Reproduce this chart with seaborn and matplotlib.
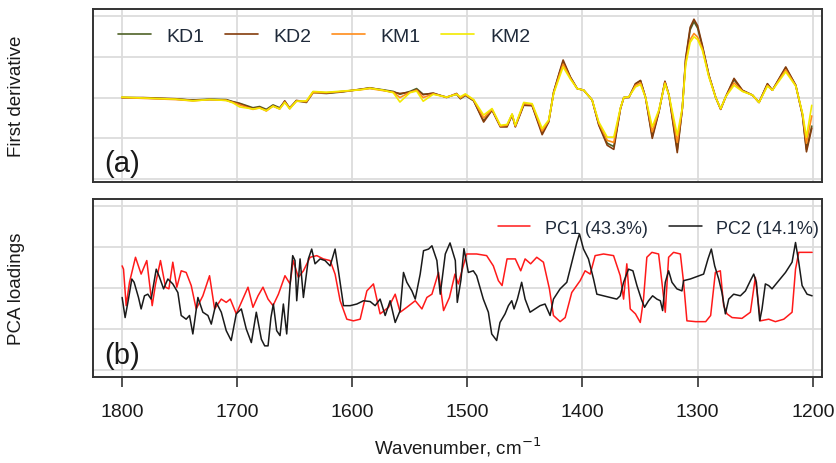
import numpy as np
import pandas as pd
import matplotlib
matplotlib.use("Agg")
import matplotlib.pyplot as plt
import seaborn as sns

# ---------------- data ----------------
wn_top = [1800, 1781.7, 1752.8, 1738.3, 1723.8, 1709.3, 1703.5, 1697.7, 1686.1, 1680.3,
          1674.5, 1668.7, 1662.9, 1658.5, 1654.2, 1648.4, 1639.7, 1633.9, 1622.3, 1607.8,
          1593.3, 1584.6, 1573, 1564.3, 1558.5, 1549.8, 1544, 1538.3, 1529.6, 1518,
          1509.3, 1506, 1501.7, 1494.5, 1485.8, 1478.5, 1471.3, 1465.5, 1461.1, 1458.3,
          1451, 1443.7, 1435, 1429.3, 1425, 1420, 1416.8, 1410.4, 1404.6, 1398.9,
          1391.6, 1385.8, 1378.5, 1372.8, 1367, 1364.1, 1359.7, 1354, 1349.6, 1345.2,
          1339.4, 1333.6, 1328.4, 1324.9, 1317.7, 1313.3, 1310.4, 1306.5, 1303.2, 1300,
          1295.9, 1290.2, 1284.3, 1280, 1275.6, 1268.4, 1261.1, 1252.4, 1246.7, 1239.4,
          1235.1, 1223.5, 1214.8, 1209, 1205.5, 1200.9]
kd1 = [0.0, -0.01, -0.04, -0.06, -0.04, -0.05, -0.10, -0.14, -0.25, -0.22,
       -0.29, -0.18, -0.25, -0.10, -0.25, -0.08, -0.12, 0.12, 0.10, 0.14,
       0.20, 0.23, 0.19, 0.15, 0.08, 0.15, 0.22, 0.08, 0.10, 0.01,
       0.08, -0.03, 0.05, -0.08, -0.57, -0.30, -0.70, -0.70, -0.42, -0.70,
       -0.17, -0.19, -0.86, -0.58, 0.13, 0.60, 0.88, 0.49, 0.22, 0.18,
       -0.06, -0.66, -1.12, -1.20, -0.27, 0.0, 0.01, 0.33, 0.41, 0.0,
       -0.95, -0.34, 0.39, 0.06, -1.28, -0.27, 0.93, 1.66, 1.86, 1.70,
       1.25, 0.54, 0.0, -0.28, 0.02, 0.44, 0.17, 0.06, -0.12, 0.33,
       0.18, 0.73, 0.30, -0.42, -1.27, -0.70]
kd2 = [0.0, 0.0, -0.03, -0.07, -0.05, -0.06, -0.11, -0.15, -0.27, -0.24,
       -0.31, -0.20, -0.27, -0.08, -0.27, -0.07, -0.11, 0.14, 0.11, 0.15,
       0.20, 0.24, 0.18, 0.13, 0.10, 0.13, 0.19, 0.07, 0.11, 0.0,
       0.10, -0.02, 0.07, -0.07, -0.60, -0.31, -0.72, -0.72, -0.43, -0.72,
       -0.19, -0.20, -0.91, -0.60, 0.14, 0.62, 0.92, 0.50, 0.22, 0.18,
       -0.06, -0.68, -1.17, -1.27, -0.27, 0.0, 0.0, 0.34, 0.42, 0.0,
       -1.00, -0.35, 0.40, 0.06, -1.35, -0.27, 0.96, 1.72, 1.92, 1.76,
       1.28, 0.55, 0.0, -0.29, 0.02, 0.47, 0.18, 0.06, -0.12, 0.34,
       0.18, 0.75, 0.30, -0.43, -1.33, -0.75]
km1 = [0.0, -0.02, -0.05, -0.08, -0.05, -0.07, -0.12, -0.18, -0.29, -0.25,
       -0.33, -0.21, -0.28, -0.11, -0.26, -0.09, -0.10, 0.12, 0.12, 0.15,
       0.19, 0.22, 0.17, 0.13, 0.0, 0.13, 0.18, 0.0, 0.09, 0.01,
       0.09, -0.01, 0.07, -0.06, -0.50, -0.29, -0.70, -0.68, -0.41, -0.70,
       -0.15, -0.17, -0.82, -0.57, 0.12, 0.55, 0.82, 0.47, 0.22, 0.18,
       -0.06, -0.63, -1.05, -1.10, -0.26, 0.0, 0.01, 0.30, 0.36, 0.0,
       -0.84, -0.32, 0.37, 0.06, -1.10, -0.26, 0.86, 1.42, 1.57, 1.48,
       1.20, 0.52, 0.0, -0.28, 0.02, 0.36, 0.16, 0.06, -0.12, 0.30,
       0.18, 0.68, 0.29, -0.40, -1.12, -0.45]
km2 = [0.01, -0.01, -0.04, -0.08, -0.05, -0.07, -0.13, -0.23, -0.28, -0.26,
       -0.32, -0.21, -0.28, -0.12, -0.28, -0.09, -0.08, 0.15, 0.13, 0.16,
       0.19, 0.23, 0.18, 0.12, -0.11, 0.12, 0.16, -0.09, 0.08, 0.01,
       0.08, 0.02, 0.09, -0.05, -0.43, -0.27, -0.68, -0.66, -0.40, -0.68,
       -0.12, -0.15, -0.76, -0.55, 0.10, 0.50, 0.75, 0.45, 0.22, 0.18,
       -0.06, -0.60, -0.97, -0.97, -0.25, 0.0, 0.02, 0.26, 0.32, 0.0,
       -0.72, -0.30, 0.34, 0.06, -0.92, -0.25, 0.80, 1.35, 1.49, 1.42,
       1.16, 0.50, 0.0, -0.27, 0.02, 0.30, 0.15, 0.06, -0.12, 0.28,
       0.18, 0.63, 0.28, -0.38, -0.97, -0.19]

wn_pc1 = [1799.7, 1798.5, 1796.2, 1793.3, 1788.1, 1783.2, 1778.3, 1773.6, 1770.7, 1766.4,
          1762, 1759.1, 1755.7, 1752.2, 1748.4, 1744.1, 1739.7, 1735.4, 1729.6, 1723.8,
          1719.4, 1713.6, 1709.3, 1705.8, 1700.6, 1696.2, 1690.4, 1686.1, 1681.7, 1677.4,
          1673, 1668.7, 1664, 1658.3, 1653.9, 1651.1, 1646.7, 1642.3, 1636.5, 1630.7,
          1625, 1619.1, 1614.8, 1610.4, 1604.6, 1598.9, 1593, 1587.2, 1581.5, 1575.7,
          1568.4, 1562.6, 1558.3, 1552.5, 1545.2, 1539.4, 1535.1, 1530.7, 1525, 1520.6,
          1515.5, 1510.7, 1507.8, 1503.5, 1500.6, 1491.9, 1483.2, 1477.4, 1473, 1469.8,
          1465.5, 1458.3, 1453.6, 1449.8, 1445, 1439.7, 1433.9, 1428.7, 1425.2, 1419.4,
          1415, 1409.3, 1402, 1397.7, 1393.3, 1389, 1381.7, 1373, 1367.2, 1364.3,
          1361.5, 1358.5, 1354, 1349.8, 1347, 1344.1, 1339.7, 1333.9, 1331, 1328.1,
          1325.2, 1320.9, 1315, 1312.2, 1309.3, 1301.7, 1293, 1288.7, 1284.6, 1280.3,
          1277.4, 1274.5, 1270.1, 1261.5, 1254.2, 1249.9, 1245.5, 1238.3, 1232.5, 1225.2,
          1218, 1215, 1212.2, 1200.6]
pc1 = [0.54, 0.46, -0.43, 0.14, 0.75, 0.34, 0.67, -0.43, 0.10, 0.67,
       0.02, -0.02, 0.63, 0.02, 0.42, 0.38, 0.06, -0.51, -0.19, 0.30,
       -0.51, -0.27, -0.35, -0.27, -0.63, -0.35, 0.02, -0.47, -0.19, 0.02,
       -0.27, -0.43, -0.15, 0.30, 0.10, 0.67, 0.26, 0.42, 0.75, 0.79,
       0.71, 0.67, 0.34, -0.31, -0.76, -0.80, -0.76, -0.07, 0.10, -0.63,
       -0.47, -0.15, -0.59, -0.47, -0.31, -0.51, -0.23, -0.15, 0.38, -0.55,
       -0.23, 0.34, 0.10, 0.54, 0.83, 0.83, 0.79, 0.54, 0.18, 0.06,
       0.71, 0.71, 0.42, 0.71, 0.59, 0.75, 0.63, -0.02, -0.67, -0.82,
       -0.72, -0.11, 0.18, 0.42, 0.34, 0.79, 0.83, 0.79, 0.30, -0.27,
       0.59, -0.51, -0.63, -0.84, -0.27, 0.75, 0.87, 0.83, 0.14, -0.59,
       0.75, 0.87, 0.83, 0.14, -0.80, -0.82, -0.82, -0.67, 0.38, 0.42,
       -0.43, -0.63, -0.72, -0.74, -0.59, 0.26, -0.80, -0.76, -0.82, -0.76,
       -0.59, 0.46, 0.87, 0.87]

wn_pc2 = [1799.7, 1797.1, 1794.2, 1791.3, 1789.3, 1785.5, 1783.2, 1780.3, 1777.4, 1774.5,
          1770.1, 1767.2, 1763.7, 1760, 1755.7, 1751.3, 1748.4, 1744.1, 1741.2, 1738.3,
          1733.9, 1729.6, 1725.2, 1722.3, 1718, 1713.6, 1709.3, 1705, 1700.6, 1696.2,
          1691.9, 1687.5, 1683.2, 1678.8, 1675.9, 1673, 1670.5, 1668.4, 1665.5, 1662.6,
          1659.7, 1656.8, 1653.9, 1651.6, 1649.6, 1648.1, 1645.2, 1642.3, 1638, 1635.1,
          1632.2, 1627.8, 1623.5, 1619.1, 1614.8, 1611.9, 1607.5, 1601.7, 1595.9, 1590.1,
          1584.3, 1580, 1575.7, 1571.3, 1567, 1562.6, 1558.3, 1555.4, 1552.5, 1548.1,
          1545.2, 1540.9, 1538, 1533.6, 1530.7, 1526.4, 1523.5, 1519.1, 1515, 1510.4,
          1508.7, 1505.5, 1502.9, 1499.1, 1494.8, 1491.9, 1486.1, 1481.7, 1478.8, 1474.5,
          1471.6, 1467.2, 1464.3, 1461.4, 1459.4, 1456.5, 1452.8, 1449.8, 1445.5, 1441.2,
          1436.8, 1432.5, 1428.1, 1425.2, 1419.4, 1413.6, 1407.8, 1404.9, 1402.6, 1399.1,
          1394.8, 1390.4, 1387.5, 1381.7, 1375.9, 1370.2, 1367.2, 1364.3, 1360, 1356.2,
          1352.7, 1348.9, 1346.1, 1342.6, 1339.1, 1335.4, 1332.4, 1330.4, 1328.1, 1325.2,
          1322.3, 1318, 1313.6, 1312.2, 1306.4, 1300.6, 1294.8, 1291, 1288.1, 1285.2,
          1281.7, 1278.9, 1275.9, 1273, 1268.7, 1262.9, 1258.5, 1254.2, 1251.3, 1249,
          1246.1, 1244.1, 1241.2, 1238.3, 1235.4, 1229.6, 1223.7, 1218, 1215, 1212.2,
          1209.3, 1205, 1200.6]
pc2 = [-0.23, -0.72, -0.27, 0.22, 0.14, -0.23, -0.51, -0.19, -0.15, -0.27,
       0.46, 0.26, -0.02, 0.22, 0.10, -0.11, -0.67, -0.76, -0.67, -1.12,
       -0.23, -0.59, -0.67, -0.88, -0.35, -0.59, -1.04, -1.28, -0.63, -0.51,
       -1.00, -1.33, -0.59, -1.25, -1.41, -1.41, -0.72, -0.39, -1.04, -1.16,
       -0.39, -1.12, 0.06, 0.79, 0.67, -0.31, 0.71, -0.23, 0.71, 0.95,
       0.59, 0.71, 0.67, 0.54, 0.95, 0.42, -0.43, -0.43, -0.39, -0.31,
       -0.33, -0.43, -0.27, -0.67, -0.31, -0.84, -0.55, 0.38, 0.14, -0.07,
       -0.27, 0.34, 0.91, 0.95, 1.03, 0.67, -0.15, 0.83, 1.10, 0.67,
       -0.35, 0.20, 0.96, 0.38, 0.42, 0.30, -0.27, -0.59, -1.12, -1.28,
       -0.84, -0.63, -0.43, -0.31, -0.51, -0.27, 0.14, -0.27, -0.59, -0.51,
       -0.43, -0.39, -0.67, -0.27, -0.02, 0.14, 0.79, 1.11, 1.32, 0.95,
       0.71, 0.22, -0.15, -0.19, -0.23, -0.27, -0.19, 0.14, 0.46, 0.42,
       0.06, -0.27, -0.47, -0.31, -0.19, -0.27, -0.31, -0.55, 0.14, 0.42,
       0.14, -0.02, -0.07, 0.18, 0.22, 0.28, 0.34, 0.71, 0.95, 0.54,
       0.22, -0.11, -0.63, -0.27, -0.15, -0.19, -0.07, 0.18, 0.34, 0.14,
       -0.80, -0.51, 0.10, 0.06, -0.02, 0.18, 0.38, 0.63, 1.11, 0.63,
       0.06, -0.15, -0.19]

top_labels = ["KD1", "KD2", "KM1", "KM2"]
pc_labels = ["PC1 (43.3%)", "PC2 (14.1%)"]
xticks = [1800, 1700, 1600, 1500, 1400, 1300, 1200]

# ---------------- style ----------------
sns.set_theme(style="whitegrid")
plt.rcParams['font.family'] = ['Liberation Sans', 'DejaVu Sans']

top_df = pd.concat([
    pd.DataFrame({"wn": wn_top, "val": v, "series": n})
    for n, v in zip(top_labels, [kd1, kd2, km1, km2])
])
pc_df = pd.concat([
    pd.DataFrame({"wn": wn_pc1, "val": pc1, "series": pc_labels[0]}),
    pd.DataFrame({"wn": wn_pc2, "val": pc2, "series": pc_labels[1]}),
])

top_pal = {"KD1": "#4F6228", "KD2": "#843C0C", "KM1": "#FF8C1A", "KM2": "#F2EA00"}
pc_pal = {pc_labels[0]: "#FF1A1A", pc_labels[1]: "#1A1A1A"}

fig = plt.figure(figsize=(8.37, 4.64), dpi=100)
ax1 = fig.add_axes([0.1111, 0.6056, 0.871, 0.3728])
ax2 = fig.add_axes([0.1111, 0.1853, 0.871, 0.3836])

sns.lineplot(data=top_df, x="wn", y="val", hue="series", palette=top_pal,
             hue_order=top_labels, estimator=None, lw=1.2, ax=ax1)
sns.lineplot(data=pc_df, x="wn", y="val", hue="series", palette=pc_pal,
             hue_order=pc_labels, estimator=None, lw=1.1, ax=ax2)

for ax in (ax1, ax2):
    ax.set_xlim(1825, 1192)
    ax.set_xticks(xticks)
    ax.set_yticks([-2, -1, 0, 1, 2])
    ax.set_yticklabels([])
    ax.grid(True, color="#dcdcdc", lw=1.3)
    ax.set_facecolor("white")
    for s in ax.spines.values():
        s.set_visible(True)
        s.set_color("#333333")
        s.set_linewidth(1.4)
    ax.tick_params(axis="y", length=0)

ax1.set_ylim(-2.07, 2.17)
ax2.set_ylim(-2.17, 2.17)

ax1.tick_params(axis="x", length=0, labelbottom=False)
ax1.set_xlabel("")
ax2.tick_params(axis="x", length=7, width=1.2, color="#333333", direction="out",
                labelsize=14, pad=12, bottom=True, labelcolor="#1a1a1a")

ax2.set_xlabel("Wavenumber, cm$^{-1}$", fontsize=13.5, labelpad=10, color="#1a1a1a")

ax1.set_ylabel("First derivative", fontsize=13.5, color="#1a1a1a")
ax2.set_ylabel("PCA loadings", fontsize=13.5, color="#1a1a1a")
ax1.yaxis.set_label_coords(-0.093, 0.5)
ax2.yaxis.set_label_coords(-0.093, 0.5)

ax1.text(0.016, 0.03, "(a)", transform=ax1.transAxes, fontsize=21, va="bottom",
         ha="left", color="#1a1a1a")
ax2.text(0.016, 0.045, "(b)", transform=ax2.transAxes, fontsize=21, va="bottom",
         ha="left", color="#1a1a1a")

h1, l1 = ax1.get_legend_handles_labels()
ax1.legend(h1, l1, ncol=4, frameon=False, loc="upper left",
           bbox_to_anchor=(0.0145, 0.977), fontsize=14, handlelength=1.7,
           handletextpad=0.8, columnspacing=1.05, borderaxespad=0.35)
h2, l2 = ax2.get_legend_handles_labels()
ax2.legend(h2, l2, ncol=2, frameon=False, loc="upper right",
           bbox_to_anchor=(1.016, 0.966), fontsize=13, handlelength=1.8,
           handletextpad=0.8, columnspacing=1.2, borderaxespad=0.4)
for leg in (ax1.get_legend(), ax2.get_legend()):
    for t in leg.get_texts():
        t.set_color("#1f2a3a")

fig.savefig("out.png", dpi=100)
